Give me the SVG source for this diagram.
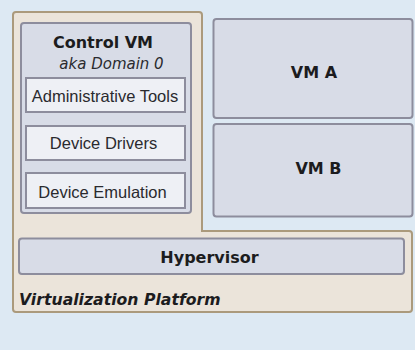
<svg xmlns="http://www.w3.org/2000/svg" width="415" height="350" viewBox="0 0 415 350">
  <style>
    .platform { fill: #ebe4da; stroke: #ab9a7c; stroke-width: 2; }
    .vm { fill: #d8dce7; stroke: #8d8d9d; stroke-width: 2; }
    .tool { fill: #eef0f5; stroke: #8d8d9d; stroke-width: 2; }
    .title { font-family: "DejaVu Sans", sans-serif; font-weight: bold; font-size: 16px; fill: #1c1c1e; text-anchor: middle; }
    .sub { font-family: "DejaVu Sans", sans-serif; font-style: italic; font-size: 15px; fill: #2a2a2e; text-anchor: middle; }
    .label { font-family: "Liberation Sans", Arial, sans-serif; font-size: 16.5px; fill: #2a2a2e; text-anchor: middle; }
    .caption { font-family: "DejaVu Sans", sans-serif; font-weight: bold; font-style: italic; font-size: 15.7px; fill: #1c1c1e; }
  </style>
  <rect width="415" height="350" fill="#dde9f3"/>

  <!-- Virtualization platform: L-shaped base enclosing Control VM and hypervisor -->
  <g id="platform">
    <path class="platform" d="M16,12 H199 Q202,12 202,15 V231 H409 Q412,231 412,234 V309 Q412,312 409,312 H16 Q13,312 13,309 V15 Q13,12 16,12 Z"/>
    <text class="caption" x="19" y="305">Virtualization Platform</text>
  </g>

  <g id="control-vm">
    <rect class="vm" x="21" y="23" width="170" height="190" rx="3"/>
    <text class="title" x="103" y="47.5">Control VM</text>
    <text class="sub" x="111.5" y="68.5">aka Domain 0</text>
  </g>

  <g id="admin-tools">
    <rect class="tool" x="26" y="78" width="159" height="34"/>
    <text class="label" x="105" y="101.5">Administrative Tools</text>
  </g>

  <g id="device-drivers">
    <rect class="tool" x="26" y="126" width="159" height="34"/>
    <text class="label" x="103.5" y="148.5">Device Drivers</text>
  </g>

  <g id="device-emulation">
    <rect class="tool" x="26" y="173" width="159" height="35"/>
    <text class="label" x="102.5" y="197.5">Device Emulation</text>
  </g>

  <g id="vm-a">
    <rect class="vm" x="213.5" y="19" width="199" height="99" rx="3"/>
    <text class="title" x="314" y="77.5">VM A</text>
  </g>

  <g id="vm-b">
    <rect class="vm" x="213.5" y="124" width="199" height="92.5" rx="3"/>
    <text class="title" x="318.5" y="174">VM B</text>
  </g>

  <g id="hypervisor">
    <rect class="vm" x="19" y="238.5" width="385" height="35.5" rx="3"/>
    <text class="title" x="209.5" y="263">Hypervisor</text>
  </g>

  <g id="connectors"/>
</svg>
